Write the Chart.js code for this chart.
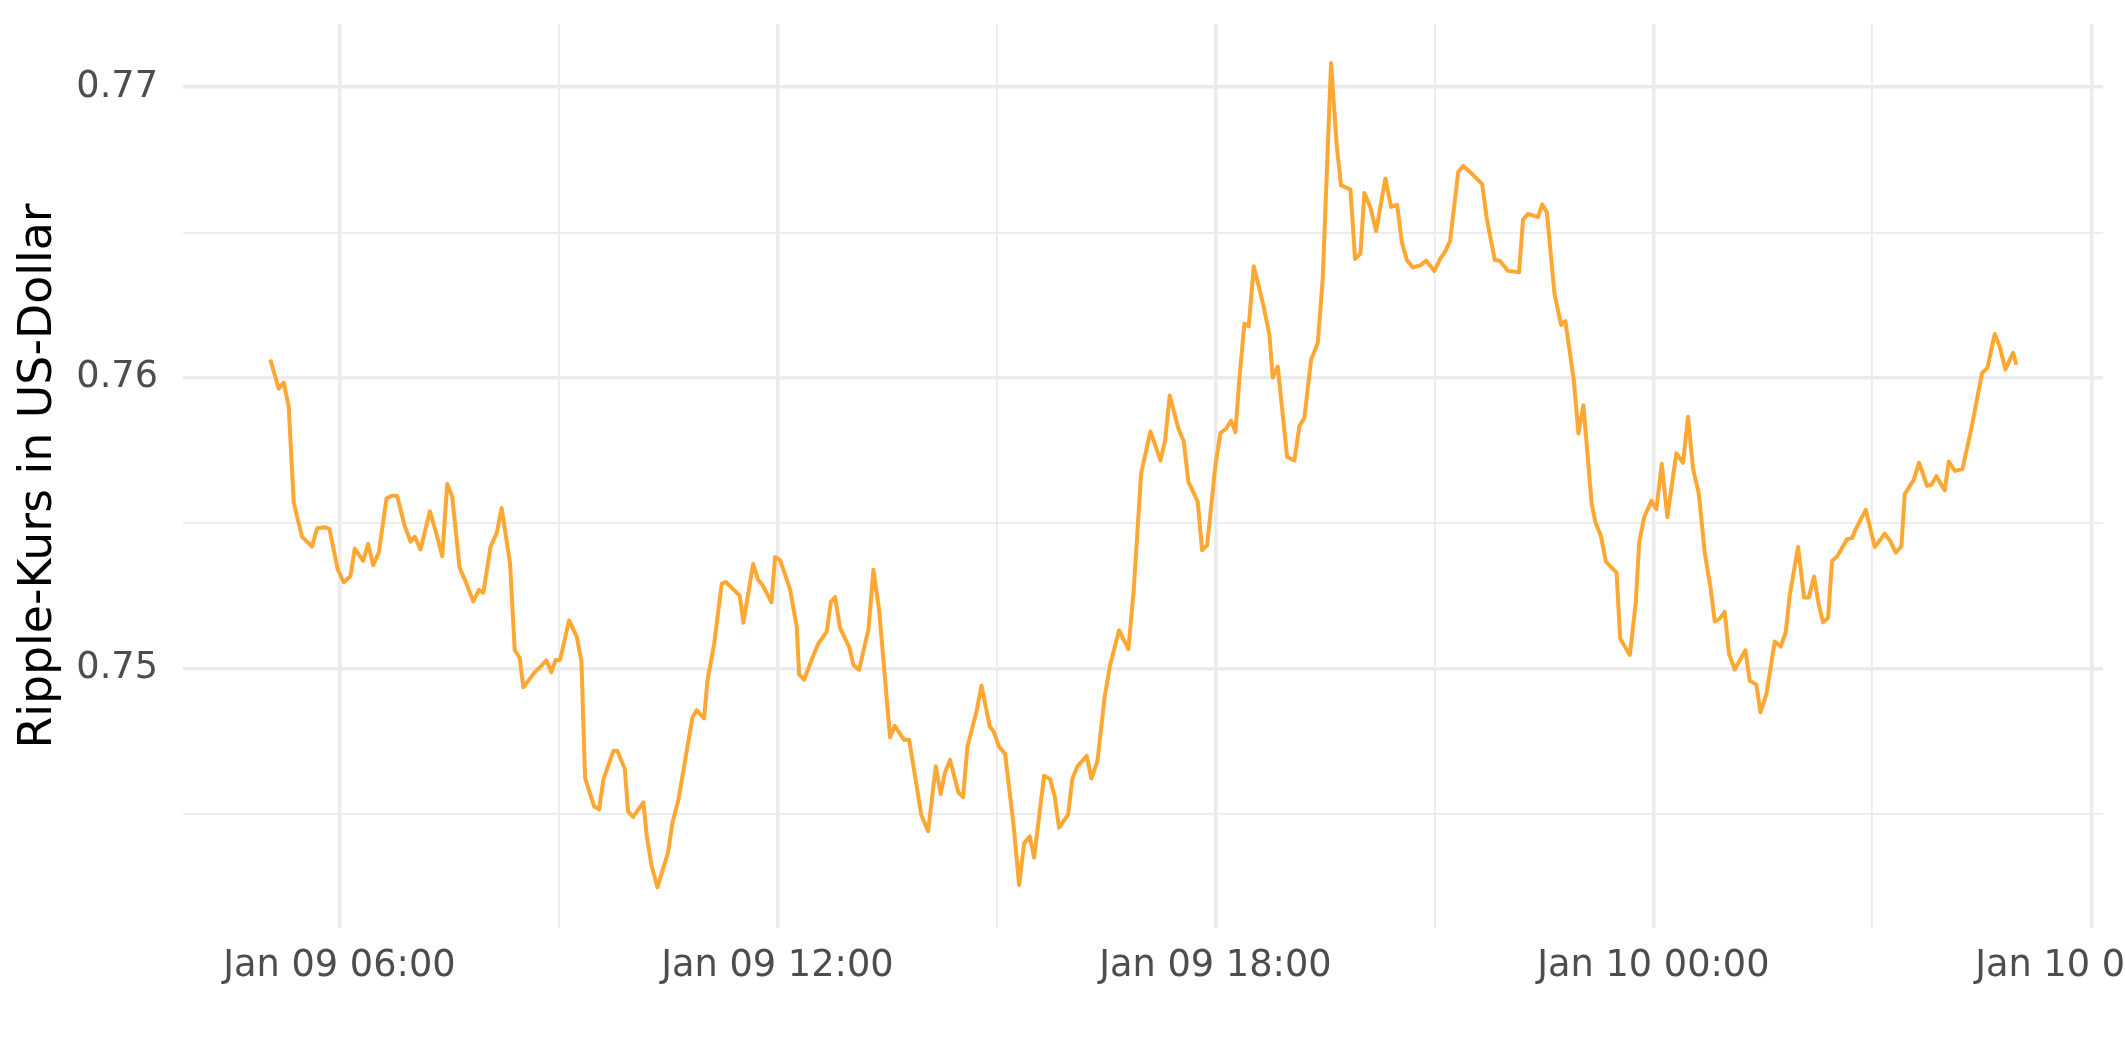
<!DOCTYPE html>
<html>
<head>
<meta charset="utf-8">
<title>Ripple-Kurs</title>
<script src="https://cdn.jsdelivr.net/npm/chart.js@4.4.1/dist/chart.umd.min.js"></script>
<style>
  html, body { margin: 0; padding: 0; background: #ffffff; }
  canvas { display: block; }
</style>
</head>
<body>
<canvas id="chart" width="2125" height="1062"></canvas>
<script>
// hours since Jan 09 00:00
const hours = [
  5.053, 5.168, 5.236, 5.305, 5.374, 5.488, 5.625, 5.694, 5.808, 5.863, 5.977,
  6.059, 6.151, 6.210, 6.325, 6.393, 6.462, 6.540, 6.645, 6.722, 6.791, 6.892, 6.974,
  7.033, 7.111, 7.239, 7.326, 7.408, 7.477, 7.545, 7.646, 7.715, 7.834, 7.911, 7.971,
  8.071, 8.154, 8.222, 8.337, 8.401, 8.469, 8.519, 8.675, 8.734, 8.835, 8.904, 8.963,
  9.023, 9.146, 9.251, 9.315, 9.365, 9.489, 9.557, 9.616, 9.753, 9.808, 9.909, 9.954,
  10.023, 10.164, 10.210, 10.274, 10.356, 10.502, 10.562, 10.644, 10.836, 10.895, 10.995,
  11.041, 11.132, 11.237, 11.292, 11.484, 11.534, 11.667, 11.735, 11.795, 11.918, 11.968,
  12.037, 12.174, 12.265, 12.297, 12.365, 12.493, 12.562, 12.676, 12.731, 12.790, 12.858, 12.982,
  13.041, 13.119, 13.247, 13.315, 13.393, 13.543, 13.607, 13.735, 13.804, 13.973,
  14.064, 14.169, 14.237, 14.292, 14.365, 14.479, 14.543, 14.603, 14.731, 14.795, 14.909, 14.959,
  15.037, 15.119, 15.233, 15.311, 15.379, 15.457, 15.516, 15.653, 15.735, 15.799, 15.858, 15.982,
  16.041, 16.110, 16.237, 16.301, 16.384, 16.484, 16.557, 16.680, 16.808, 16.881, 16.982,
  17.110, 17.247, 17.311, 17.374, 17.493, 17.566, 17.630, 17.758, 17.817, 17.886,
  18.000, 18.068, 18.146, 18.215, 18.274, 18.329, 18.397, 18.457, 18.525, 18.589, 18.662, 18.740, 18.785, 18.854, 18.982,
  19.082, 19.151, 19.219, 19.311, 19.402, 19.470, 19.584, 19.662, 19.721, 19.849, 19.913, 19.986,
  20.041, 20.123, 20.201, 20.329, 20.406, 20.489, 20.555, 20.623, 20.705, 20.818, 20.886,
  21.000, 21.077, 21.145, 21.214, 21.327, 21.395, 21.518, 21.655, 21.714, 21.827, 21.895,
  22.009, 22.159, 22.214, 22.282, 22.418, 22.477, 22.541, 22.645, 22.736, 22.795, 22.909, 22.973,
  23.041, 23.155, 23.205, 23.282, 23.350, 23.495, 23.545, 23.677, 23.759, 23.805, 23.873, 23.973,
  24.041, 24.114, 24.191, 24.314, 24.406, 24.475, 24.543, 24.621, 24.703, 24.785, 24.840, 24.909, 24.977,
  25.037, 25.114, 25.260, 25.320, 25.411, 25.466, 25.548, 25.662, 25.744, 25.813, 25.868, 25.982,
  26.064, 26.128, 26.201, 26.265, 26.324, 26.393, 26.447, 26.516, 26.653, 26.721, 26.772, 26.909,
  27.032, 27.169, 27.247, 27.320, 27.397, 27.443, 27.566, 27.639, 27.749, 27.808, 27.877, 27.991,
  28.046, 28.128, 28.233, 28.356, 28.502, 28.575, 28.676, 28.744, 28.822, 28.927, 28.973
];

// Ripple price in USD at those times
const prices = [
  0.76063, 0.75963, 0.75984, 0.75901, 0.75571, 0.75453, 0.75420, 0.75483, 0.75486, 0.75480, 0.75341,
  0.75297, 0.75318, 0.75413, 0.75371, 0.75429, 0.75356, 0.75400, 0.75585, 0.75595, 0.75594, 0.75492, 0.75437,
  0.75453, 0.75410, 0.75541, 0.75466, 0.75387, 0.75635, 0.75591, 0.75347, 0.75308, 0.75231, 0.75271, 0.75261,
  0.75420, 0.75466, 0.75552, 0.75363, 0.75064, 0.75037, 0.74936, 0.74988, 0.75001, 0.75028, 0.74988, 0.75030,
  0.75030, 0.75166, 0.75110, 0.75024, 0.74624, 0.74526, 0.74516, 0.74619, 0.74717, 0.74717, 0.74655, 0.74509,
  0.74490, 0.74540, 0.74424, 0.74325, 0.74248, 0.74368, 0.74470, 0.74549, 0.74833, 0.74857, 0.74829,
  0.74958, 0.75083, 0.75292, 0.75298, 0.75251, 0.75158, 0.75360, 0.75305, 0.75288, 0.75228, 0.75384,
  0.75373, 0.75272, 0.75143, 0.74980, 0.74962, 0.75046, 0.75087, 0.75127, 0.75229, 0.75246, 0.75139, 0.75075,
  0.75012, 0.74996, 0.75135, 0.75340, 0.75202, 0.74764, 0.74803, 0.74755, 0.74755, 0.74495,
  0.74441, 0.74664, 0.74568, 0.74640, 0.74686, 0.74574, 0.74558, 0.74731, 0.74857, 0.74942, 0.74801, 0.74785,
  0.74731, 0.74707, 0.74465, 0.74256, 0.74399, 0.74423, 0.74350, 0.74632, 0.74620, 0.74559, 0.74453, 0.74498,
  0.74622, 0.74664, 0.74700, 0.74622, 0.74682, 0.74906, 0.75012, 0.75132, 0.75067, 0.75271, 0.75671,
  0.75816, 0.75716, 0.75785, 0.75939, 0.75825, 0.75782, 0.75642, 0.75574, 0.75407, 0.75424,
  0.75699, 0.75810, 0.75825, 0.75853, 0.75813, 0.75999, 0.76187, 0.76177, 0.76384, 0.76320, 0.76244, 0.76148, 0.76001, 0.76039, 0.75728,
  0.75716, 0.75835, 0.75863, 0.76063, 0.76120, 0.76341, 0.77083, 0.76797, 0.76662, 0.76648, 0.76409, 0.76427,
  0.76636, 0.76586, 0.76505, 0.76686, 0.76588, 0.76595, 0.76465, 0.76405, 0.76380, 0.76388, 0.76403,
  0.76368, 0.76408, 0.76433, 0.76470, 0.76709, 0.76729, 0.76701, 0.76666, 0.76553, 0.76405, 0.76403,
  0.76368, 0.76363, 0.76544, 0.76564, 0.76553, 0.76597, 0.76569, 0.76289, 0.76182, 0.76195, 0.75993, 0.75809,
  0.75906, 0.75565, 0.75504, 0.75455, 0.75368, 0.75330, 0.75104, 0.75047, 0.75228, 0.75433, 0.75520, 0.75577,
  0.75549, 0.75705, 0.75521, 0.75741, 0.75708, 0.75866, 0.75688, 0.75603, 0.75399, 0.75274, 0.75162, 0.75172, 0.75195,
  0.75050, 0.74997, 0.75063, 0.74958, 0.74945, 0.74850, 0.74912, 0.75093, 0.75076, 0.75125, 0.75254, 0.75418,
  0.75245, 0.75245, 0.75317, 0.75221, 0.75159, 0.75175, 0.75370, 0.75386, 0.75445, 0.75449, 0.75480, 0.75546,
  0.75418, 0.75464, 0.75438, 0.75399, 0.75421, 0.75600, 0.75649, 0.75708, 0.75629, 0.75632, 0.75662, 0.75613,
  0.75712, 0.75680, 0.75686, 0.75826, 0.76017, 0.76034, 0.76151, 0.76108, 0.76029, 0.76086, 0.76045
];

// axis breaks: labelled every 6 hours, minor lines in between
const xTickHours = [6, 9, 12, 15, 18, 21, 24, 27, 30];
const xTickLabels = ["Jan 09 06:00", "", "Jan 09 12:00", "", "Jan 09 18:00", "", "Jan 10 00:00", "", "Jan 10 06:00"];
const yTickValues = [0.745, 0.75, 0.755, 0.76, 0.765, 0.77];
const yTickLabels = ["", "0.75", "", "0.76", "", "0.77"];

const gridColor = "#ebebeb";
const textColor = "#4d4d4d";
const fontFamily = "'DejaVu Sans', sans-serif";

function isMajorX(value) {
  return xTickLabels[xTickHours.indexOf(value)] !== "";
}

function isMajorY(value) {
  const idx = yTickValues.findIndex((v) => Math.abs(v - value) < 1e-9);
  return idx >= 0 && yTickLabels[idx] !== "";
}

const points = hours.map((h, i) => ({ x: h, y: prices[i] }));

new Chart(document.getElementById("chart"), {
  type: "line",
  data: {
    datasets: [
      {
        data: points,
        borderColor: "#ffa733",
        borderWidth: 4,
        borderJoinStyle: "round",
        borderCapStyle: "butt",
        pointRadius: 0,
        tension: 0,
        fill: false,
      },
    ],
  },
  options: {
    responsive: false,
    animation: false,
    events: [],
    layout: { padding: { top: 24, right: 22, bottom: 0, left: 0 } },
    plugins: {
      legend: { display: false },
      tooltip: { enabled: false },
    },
    scales: {
      x: {
        type: "linear",
        min: 3.857,
        max: 30.159,
        afterBuildTicks: (scale) => {
          scale.ticks = xTickHours.map((v) => ({ value: v }));
        },
        afterFit: (scale) => {
          scale.height = 134;
          scale.paddingLeft = 0;
          scale.paddingRight = 0;
        },
        border: { display: false },
        grid: {
          color: gridColor,
          drawTicks: false,
          lineWidth: (c) => (c.tick && isMajorX(c.tick.value) ? 3.5 : 1.8),
        },
        ticks: {
          autoSkip: false,
          maxRotation: 0,
          padding: 16,
          color: textColor,
          font: { family: fontFamily, size: 36.7 },
          callback: (value) => xTickLabels[xTickHours.indexOf(value)] || "",
        },
      },
      y: {
        min: 0.74108,
        max: 0.77217,
        afterBuildTicks: (scale) => {
          scale.ticks = yTickValues.map((v) => ({ value: v }));
        },
        afterFit: (scale) => {
          scale.width = 183;
          scale.paddingTop = 0;
          scale.paddingBottom = 0;
        },
        border: { display: false },
        grid: {
          color: gridColor,
          drawTicks: false,
          lineWidth: (c) => (c.tick && isMajorY(c.tick.value) ? 3.5 : 1.8),
        },
        ticks: {
          padding: 25,
          color: textColor,
          font: { family: fontFamily, size: 36.7 },
          callback: (value) => {
            const idx = yTickValues.findIndex((v) => Math.abs(v - value) < 1e-9);
            return idx >= 0 ? yTickLabels[idx] : "";
          },
        },
        title: {
          display: true,
          text: "Ripple-Kurs in US-Dollar",
          color: "#000000",
          font: { family: fontFamily, size: 45.8 },
          padding: { top: 12, bottom: 0 },
        },
      },
    },
  },
});
</script>
</body>
</html>
